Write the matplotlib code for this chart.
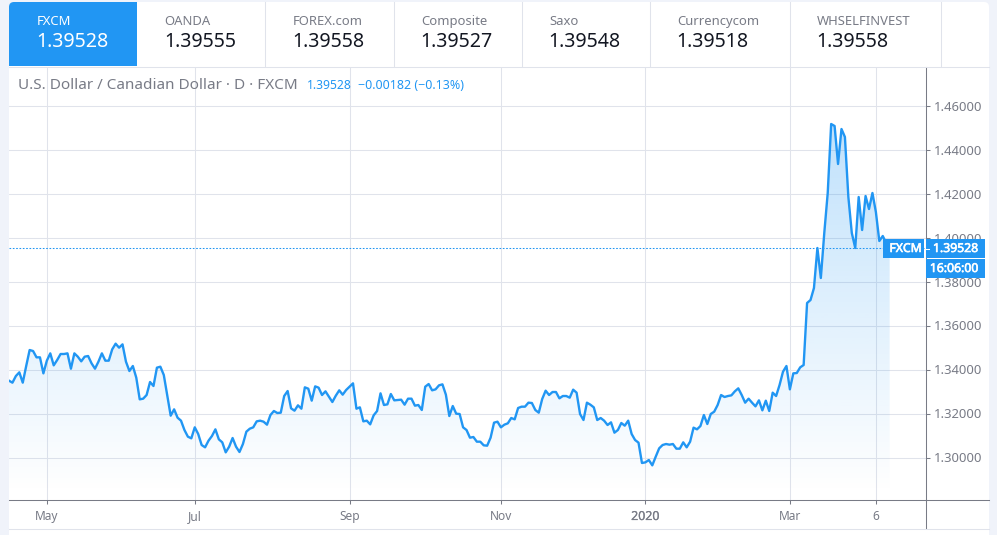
import numpy as np
import matplotlib
matplotlib.use("Agg")
import matplotlib.pyplot as plt
import matplotlib.patheffects as pe
from matplotlib.patches import Rectangle, FancyBboxPatch

# ---- data ----
close_prices = [
    1.33492, 1.33401, 1.33704, 1.33871, 1.33401, 1.34159, 1.34886, 1.34840, 1.34553, 1.34553,
    1.33825, 1.34401, 1.34734, 1.34189, 1.34431, 1.34704, 1.34704, 1.34734, 1.34037, 1.34734,
    1.34583, 1.34371, 1.34583, 1.34613, 1.34280, 1.34037, 1.34356, 1.34734, 1.34401, 1.34401,
    1.34916, 1.35174, 1.34992, 1.35143, 1.34356, 1.33931, 1.34159, 1.33628, 1.32643, 1.32674,
    1.32840, 1.33431, 1.33250, 1.34083, 1.34128, 1.33750, 1.32840, 1.31901, 1.32189, 1.31810,
    1.31674, 1.31250, 1.30947, 1.30871, 1.31371, 1.31068, 1.30568, 1.30462, 1.30765, 1.30977,
    1.31280, 1.30825, 1.30689, 1.30234, 1.30492, 1.30886, 1.30492, 1.30250, 1.30613, 1.31174,
    1.31310, 1.31371, 1.31643, 1.31674, 1.31628, 1.31492, 1.31931, 1.32113, 1.32022, 1.32037,
    1.32795, 1.33022, 1.32234, 1.32128, 1.32371, 1.32219, 1.33189, 1.33128, 1.32583, 1.33234,
    1.33174, 1.32840, 1.33007, 1.32765, 1.32522, 1.32810, 1.33053, 1.32856, 1.33068, 1.33219,
    1.33371, 1.32219, 1.32280, 1.31643, 1.31674, 1.31507, 1.31916, 1.32113, 1.32916, 1.32386,
    1.32416, 1.32886, 1.32598, 1.32613, 1.32628, 1.32401, 1.32674, 1.32674, 1.32356, 1.32386,
    1.32159, 1.33219, 1.33340, 1.33053, 1.33098, 1.33280, 1.33325, 1.32856, 1.31886, 1.32340,
    1.31992, 1.31977, 1.31371, 1.31250, 1.30901, 1.30931, 1.30719, 1.30719, 1.30553, 1.30537,
    1.30901, 1.31583, 1.31628, 1.31371, 1.31492, 1.31553, 1.31795, 1.31734, 1.32250, 1.32310,
    1.32310, 1.32492, 1.32477, 1.32159, 1.32037, 1.32659, 1.33037, 1.32840, 1.32977, 1.32977,
    1.32689, 1.32795, 1.32795, 1.32719, 1.33083, 1.32947, 1.31977, 1.31704, 1.32492, 1.32401,
    1.32280, 1.31704, 1.31795, 1.31674, 1.31477, 1.31598, 1.31128, 1.31250, 1.31568, 1.31447,
    1.31674, 1.31068, 1.30795, 1.30674, 1.29750, 1.29780, 1.29886, 1.29643, 1.30037, 1.30416,
    1.30568, 1.30613, 1.30583, 1.30613, 1.30401, 1.30401, 1.30689, 1.30462, 1.30719, 1.31356,
    1.31280, 1.31431, 1.31931, 1.31522, 1.31977, 1.32083, 1.32386, 1.32840, 1.32750, 1.32795,
    1.32825, 1.33007, 1.33143, 1.32840, 1.32492, 1.32674, 1.32492, 1.32325, 1.32598, 1.32143,
    1.32583, 1.32113, 1.32947, 1.32795, 1.33295, 1.33901, 1.34159, 1.33098, 1.33825, 1.33840,
    1.34098, 1.34204, 1.37023, 1.37159, 1.37705, 1.39523, 1.38159, 1.40205, 1.42023, 1.45159,
    1.45068, 1.43341, 1.44932, 1.44568, 1.41841, 1.40205, 1.39523, 1.41841, 1.40341, 1.41886,
    1.41295, 1.42023, 1.41159, 1.39841, 1.40068, 1.39750, 1.39528,
]
date_tick_index = [11, 54, 99, 143, 185, 227, 252]
date_tick_labels = ["May", "Jul", "Sep", "Nov", "2020", "Mar", "6"]
price_ticks = [1.30, 1.32, 1.34, 1.36, 1.38, 1.40, 1.42, 1.44, 1.46]
last_price = 1.39528
exchanges = ["FXCM", "OANDA", "FOREX.com", "Composite", "Saxo", "Currencycom", "WHSELFINVEST"]
exchange_quotes = ["1.39528", "1.39555", "1.39558", "1.39527", "1.39548", "1.39518", "1.39558"]

# ---- style ----
FONT = "Noto Sans"
BLUE = "#2196f3"
GRID = "#e0e3eb"
AXIS = "#787b86"
LW = 0.75
W, H = 997, 535
plt.rcParams["font.family"] = FONT

fig = plt.figure(figsize=(W / 100, H / 100), dpi=100, facecolor="#f0f3fa")

# white panel behind everything
bg = fig.add_axes([0, 0, 1, 1], zorder=0)
bg.set_xlim(0, W); bg.set_ylim(H, 0); bg.axis("off")
bg.add_patch(FancyBboxPatch((9, 2), 980, 560, boxstyle="round,pad=0,rounding_size=5",
                            fc="white", ec="none"))

# main chart axes: pixel box x 9..925, y 67..500
px_l, px_r, px_t, px_b = 9, 925.5, 67, 500
ax = fig.add_axes([px_l / W, 1 - px_b / H, (px_r - px_l) / W, (px_b - px_t) / H], zorder=1)
ax.patch.set_alpha(0)
step = 3.44
ax.set_xlim(0, (px_r - px_l) / step)
y_per_px = 1 / 2200
ax.set_ylim(1.34 - (px_b - 369.5) * y_per_px, 1.34 + (369.5 - px_t) * y_per_px)

x = np.arange(len(close_prices))
y = np.array(close_prices)

ax.set_axisbelow(True)
ax.grid(True, color=GRID, lw=LW)
ax.set_xticks(date_tick_index)
ax.set_xticklabels(date_tick_labels, color=AXIS, fontsize=8.6)
ax.set_yticks(price_ticks)
ax.set_yticklabels([f"{v:.5f}" for v in price_ticks], color=AXIS, fontsize=9.4)
ax.yaxis.tick_right()
ax.tick_params(axis="y", length=3, width=LW, color=AXIS, pad=3.2)
ax.tick_params(axis="x", length=3, width=LW, color=AXIS, pad=4.2)
for lab in ax.get_xticklabels():
    if lab.get_text() == "2020":
        lab.set_fontsize(8.9)
        lab.set_path_effects([pe.withStroke(linewidth=0.15, foreground=AXIS)])
for name in ("top", "left"):
    ax.spines[name].set_visible(False)
for name in ("bottom", "right"):
    ax.spines[name].set_color(AXIS)
    ax.spines[name].set_linewidth(LW)

# gradient area under the line
ymin, ymax = ax.get_ylim()
poly = ax.fill_between(x, y, ymin, color="none", lw=0)
n = 256
rgba = np.zeros((n, 1, 4))
rgba[..., 0] = 0x21 / 255; rgba[..., 1] = 0x96 / 255; rgba[..., 2] = 0xf3 / 255
rgba[:, 0, 3] = np.linspace(0.28, 0.0, n)
grad_top, grad_bot = y.max(), 1.2835
im = ax.imshow(rgba, extent=[x[0], x[-1], grad_bot, grad_top], aspect="auto",
               origin="upper", zorder=1.5, interpolation="bilinear")
im.set_clip_path(poly.get_paths()[0], transform=ax.transData)
ax.set_xlim(0, (px_r - px_l) / step)
ax.set_ylim(ymin, ymax)

ax.plot(x, y, color=BLUE, lw=1.7, zorder=3, solid_joinstyle="round", clip_on=True)
ax.axhline(last_price, color=BLUE, lw=0.75, ls=(0, (1.6, 1.6)), zorder=2.5)

# overlay in pixel coordinates: header, labels
ov = fig.add_axes([0, 0, 1, 1], zorder=2)
ov.set_xlim(0, W); ov.set_ylim(H, 0); ov.axis("off"); ov.patch.set_alpha(0)

# extensions of axis lines
ov.plot([925.5, 989], [500, 500], color=AXIS, lw=LW)
ov.plot([925.5, 925.5], [500, 528], color=AXIS, lw=LW)
ov.plot([9, 989], [528.5, 528.5], color=GRID, lw=LW)

# tabs
ov.plot([9, 989], [66.5, 66.5], color=GRID, lw=LW)
for sx in [264.5, 393.5, 521.5, 649.5, 789.5, 940.5]:
    ov.plot([sx, sx], [2, 66], color=GRID, lw=LW)
ov.add_patch(FancyBboxPatch((9, 2), 128, 64, boxstyle="round,pad=0,rounding_size=5",
                            fc=BLUE, ec="none"))
ov.add_patch(Rectangle((9, 20), 128, 46, fc=BLUE, ec="none"))
ov.add_patch(Rectangle((20, 2), 117, 20, fc=BLUE, ec="none"))

tab_x = [37, 165, 293, 421.5, 549.5, 677.5, 817.5]
for i, (tx, name, quote) in enumerate(zip(tab_x, exchanges, exchange_quotes)):
    c1 = "white" if i == 0 else AXIS
    c2 = "white" if i == 0 else "#131722"
    ov.text(tx - 0.5, 21.5, name, color=c1, fontsize=9.4, va="center", ha="left")
    ov.text(tx - 1, 42, quote, color=c2, fontsize=14.1, va="center", ha="left")

# legend line
ov.text(18, 85.5, "U.S. Dollar / Canadian Dollar · D · FXCM", color=AXIS, fontsize=11,
        va="center", ha="left")
ov.text(307, 85.5, "1.39528", color=BLUE, fontsize=8.7, va="center", ha="left")
ov.text(358, 85.5, "−0.00182 (−0.13%)", color=BLUE, fontsize=8.95, va="center", ha="left")

# last-price labels
ov.add_patch(Rectangle((883, 239), 41, 19, fc=BLUE, ec="none"))
ov.add_patch(Rectangle((926, 239), 59, 19, fc=BLUE, ec="none"))
ov.add_patch(Rectangle((926, 259), 59, 18.5, fc=BLUE, ec="none"))
bold = [pe.withStroke(linewidth=0.45, foreground="white")]
ov.text(905.5, 248.5, "FXCM", color="white", fontsize=8.8, va="center", ha="center", path_effects=bold)
ov.plot([925.5, 929], [248.5, 248.5], color="white", lw=LW)
ov.text(955.5, 248.5, "1.39528", color="white", fontsize=8.8, va="center", ha="center", path_effects=bold)
ov.text(954, 268.5, "16:06:00", color="white", fontsize=8.8, va="center", ha="center", path_effects=bold)

fig.savefig("out.png", dpi=100, facecolor=fig.get_facecolor())
